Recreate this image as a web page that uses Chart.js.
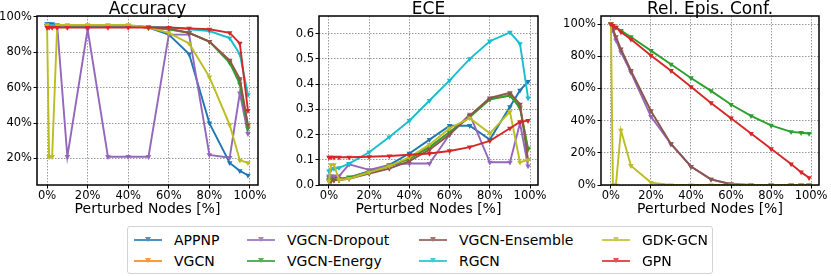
<!DOCTYPE html>
<html>
<head>
<meta charset="utf-8">
<script src="https://cdn.jsdelivr.net/npm/chart.js@4.4.1/dist/chart.umd.min.js"></script>
<style>
  body { margin: 0; width: 831px; height: 276px; background: #fff; position: relative; overflow: hidden; font-family: "DejaVu Sans", sans-serif; }
  .panel { position: absolute; top: 0; height: 218px; }
  #legend { position: absolute; left: 127px; top: 226px; width: 586px; height: 48px; border: 1px solid #d3d3d3; border-radius: 3px; box-sizing: border-box; }
  .item { position: absolute; font-size: 14px; line-height: 16px; color: #000; white-space: nowrap; }
  .sw { position: absolute; top: 7px; width: 28px; height: 2px; opacity: 0.8; }
  .sw i { position: absolute; left: 11px; top: -2px; width: 0; height: 0; border-left: 3px solid transparent; border-right: 3px solid transparent; border-top: 5px solid; }
</style>
</head>
<body>
<div class="panel" style="left:-4px"><canvas id="acc" width="279" height="218"></canvas></div>
<div class="panel" style="left:282px"><canvas id="ece" width="275" height="218"></canvas></div>
<div class="panel" style="left:556px"><canvas id="conf" width="275" height="218"></canvas></div>
<div id="legend"></div>
<script>
// x-Werte: Anteil gestoerter Knoten in %
var perturbed = [0, 1, 2.5, 5, 10, 20, 30, 40, 50, 60, 70, 80, 90, 95, 99];
var models = ['APPNP', 'VGCN', 'VGCN-Dropout', 'VGCN-Energy', 'VGCN-Ensemble', 'RGCN', 'GDK-GCN', 'GPN'];
var colors = ['#1f77b4', '#ff7f0e', '#9467bd', '#2ca02c', '#8c564b', '#17becf', '#bcbd22', '#d62728'];
var xTicks = [0, 20, 40, 60, 80, 100];

// Accuracy [%]
var accAPPNP    = [96, 96, 96, 95.5, 95, 95, 95, 95, 94, 90, 79, 40, 17.5, 13, 10.5];
var accVGCN     = [95, 95, 95, 95, 95, 95, 95, 95, 94, 93, 91, 86, 75, 64, 38];
var accDropout  = [95, 95, 95, 95, 21, 93, 21, 21, 21, 90, 90, 22, 20.5, 57, 34];
var accEnergy   = [95, 95, 95, 95, 95, 95, 95, 95, 94, 93, 91, 86, 74, 62, 37];
var accEnsemble = [95, 95, 95, 95, 95, 95, 95, 95, 94, 93.5, 91, 86, 75.5, 65, 39];
var accRGCN     = [95, 95, 95, 95, 95, 95, 95, 95, 94.5, 94, 93, 92, 88, 79, 56];
var accGDK      = [95.5, 21, 21, 95.5, 95.5, 95.5, 95.5, 95.5, 94, 91, 85, 66, 39, 19, 17.5];
var accGPN      = [94, 94, 94, 94, 94, 94, 94, 94, 94, 94, 93.5, 93, 91, 85, 47];

// ECE
var eceAPPNP    = [0.03, 0.03, 0.03, 0.025, 0.03, 0.055, 0.08, 0.125, 0.18, 0.235, 0.235, 0.18, 0.31, 0.375, 0.41];
var eceVGCN     = [0.02, 0.02, 0.02, 0.02, 0.03, 0.05, 0.075, 0.105, 0.15, 0.21, 0.27, 0.34, 0.355, 0.31, 0.14];
var eceDropout  = [0.035, 0.035, 0.035, 0.035, 0.082, 0.06, 0.08, 0.085, 0.085, 0.2, 0.28, 0.09, 0.09, 0.245, 0.075];
var eceEnergy   = [0.02, 0.02, 0.02, 0.02, 0.03, 0.05, 0.075, 0.105, 0.15, 0.21, 0.27, 0.34, 0.355, 0.305, 0.145];
var eceEnsemble = [0.015, 0.015, 0.02, 0.02, 0.025, 0.045, 0.065, 0.095, 0.14, 0.2, 0.275, 0.345, 0.365, 0.32, 0.1];
var eceRGCN     = [0.055, 0.06, 0.065, 0.068, 0.085, 0.13, 0.19, 0.255, 0.335, 0.415, 0.5, 0.57, 0.605, 0.56, 0.345];
var eceGDK      = [0.015, 0.08, 0.08, 0.02, 0.025, 0.05, 0.075, 0.11, 0.16, 0.225, 0.265, 0.205, 0.29, 0.09, 0.1];
var eceGPN      = [0.11, 0.11, 0.11, 0.11, 0.11, 0.112, 0.115, 0.12, 0.125, 0.135, 0.15, 0.175, 0.225, 0.25, 0.255];

// Rel. Epis. Conf. [%] (nur Modelle mit epistemischer Unsicherheit)
var confDropout  = [100, 96, 90, 82.5, 70, 42.5, 25.5, 11.5, 3.5, 0.5, 0, 0, 0, 0, 0];
var confEnergy   = [100, 99, 98, 96, 92, 83.5, 75, 66.5, 58.5, 50, 43, 37, 33, 32.5, 32];
var confEnsemble = [100, 97, 92, 84.5, 71, 46, 25.5, 11.5, 3.5, 0.5, 0, 0, 0, 0, 0];
var confGDK      = [100, 0, 0, 34, 12, 1.5, 0, 0, 0, 0, 0, 0, 0, 0, 0];
var confGPN      = [100, 99, 98, 95, 90.5, 80.5, 71, 61, 51, 41.5, 32, 22.5, 13, 8, 4.5];

var fam = '"DejaVu Sans", sans-serif';

// Rahmen um den Plotbereich (wie bei matplotlib)
var frame = {
  id: 'frame',
  afterDraw: function (chart) {
    var a = chart.chartArea, ctx = chart.ctx;
    ctx.save();
    ctx.strokeStyle = '#000';
    ctx.lineWidth = 1.5;
    ctx.strokeRect(a.left, a.top, a.right - a.left, a.bottom - a.top);
    ctx.restore();
  }
};

function series(name, vals) {
  var i = models.indexOf(name);
  return {
    label: name,
    data: perturbed.map(function (p, k) { return { x: p, y: vals[k] }; }),
    borderColor: colors[i],
    backgroundColor: colors[i],
    borderWidth: 1.9,
    pointStyle: 'triangle',
    pointRotation: 180,
    pointRadius: 3.2,
    pointBorderWidth: 0,
    tension: 0,
    order: models.length - i
  };
}

function makeChart(id, title, sets, yMin, yMax, yTicks, yFmt, yWidth, padRight) {
  new Chart(document.getElementById(id), {
    type: 'line',
    data: { datasets: sets },
    options: {
      responsive: false,
      animation: false,
      devicePixelRatio: 1,
      layout: { padding: { left: 0, right: padRight, top: 0, bottom: 0 } },
      plugins: {
        legend: { display: false },
        tooltip: { enabled: false },
        title: {
          display: true, text: title, fullSize: false, color: '#000',
          font: { family: fam, size: 17, weight: 'normal', lineHeight: '13px' },
          padding: { top: 3, bottom: 0 }
        }
      },
      scales: {
        x: {
          type: 'linear', min: -4.95, max: 103.95,
          afterBuildTicks: function (s) { s.ticks = xTicks.map(function (v) { return { value: v }; }); },
          afterFit: function (s) { s.height = 33; },
          ticks: {
            color: '#000', padding: 1, maxRotation: 0, autoSkip: false,
            font: { family: fam, size: 11.5 },
            callback: function (v) { return v + '%'; }
          },
          grid: { color: 'rgba(0,0,0,0.5)', lineWidth: 0.8, tickColor: '#000', tickLength: 3.5, tickWidth: 1 },
          border: { display: false, dash: [1.5, 1.5] },
          title: { display: true, text: 'Perturbed Nodes [%]', color: '#000', font: { family: fam, size: 14 }, padding: 0 }
        },
        y: {
          min: yMin, max: yMax,
          afterBuildTicks: function (s) { s.ticks = yTicks.map(function (v) { return { value: v }; }); },
          afterFit: function (s) { s.width = yWidth; },
          ticks: { color: '#000', padding: 1.5, font: { family: fam, size: 11.5 }, callback: yFmt },
          grid: { color: 'rgba(0,0,0,0.5)', lineWidth: 0.8, tickColor: '#000', tickLength: 3.5, tickWidth: 1 },
          border: { display: false, dash: [1.5, 1.5] }
        }
      }
    },
    plugins: [frame]
  });
}

var pct = function (v) { return v + '%'; };

makeChart('acc', 'Accuracy', [
  series('APPNP', accAPPNP), series('VGCN', accVGCN), series('VGCN-Dropout', accDropout),
  series('VGCN-Energy', accEnergy), series('VGCN-Ensemble', accEnsemble), series('RGCN', accRGCN),
  series('GDK-GCN', accGDK), series('GPN', accGPN)
], 5, 100.5, [20, 40, 60, 80, 100], pct, 41, 17);

makeChart('ece', 'ECE', [
  series('APPNP', eceAPPNP), series('VGCN', eceVGCN), series('VGCN-Dropout', eceDropout),
  series('VGCN-Energy', eceEnergy), series('VGCN-Ensemble', eceEnsemble), series('RGCN', eceRGCN),
  series('GDK-GCN', eceGDK), series('GPN', eceGPN)
], 0, 0.67, [0, 0.1, 0.2, 0.3, 0.4, 0.5, 0.6], function (v) { return v.toFixed(1); }, 37, 19);

makeChart('conf', 'Rel. Epis. Conf.', [
  series('VGCN-Dropout', confDropout), series('VGCN-Energy', confEnergy),
  series('VGCN-Ensemble', confEnsemble), series('GDK-GCN', confGDK), series('GPN', confGPN)
], 0, 105, [0, 20, 40, 60, 80, 100], pct, 45, 12);

// Legende: 4 Spalten, spaltenweise gefuellt
var legend = document.getElementById('legend');
var colLeft = [6, 119, 291, 474];
var rowTop = [5, 26];
models.forEach(function (m, i) {
  var d = document.createElement('div');
  d.className = 'item';
  d.style.left = colLeft[Math.floor(i / 2)] + 'px';
  d.style.top = rowTop[i % 2] + 'px';
  d.innerHTML = '<span class="sw" style="background:' + colors[i] + '"><i style="border-top-color:' + colors[i] + '"></i></span>' +
    '<span style="margin-left:40px">' + m + '</span>';
  legend.appendChild(d);
});
</script>
</body>
</html>
